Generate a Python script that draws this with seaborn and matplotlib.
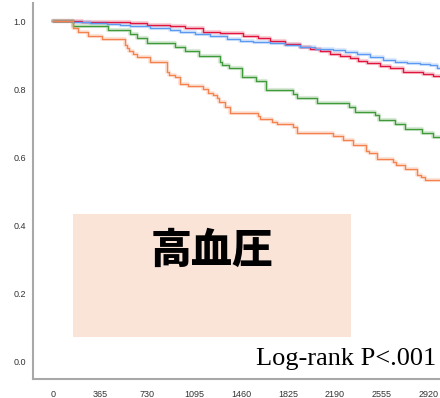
import pandas as pd
import matplotlib.pyplot as plt
import matplotlib.patches as mpatches
import seaborn as sns

# Kaplan-Meier steps (days, survival)
grupo_a_dias = [0, 225, 388, 598, 730, 909, 1025, 1165, 1297, 1476, 1592, 1685, 1802,
                1918, 1996, 2074, 2151, 2229, 2307, 2369, 2439, 2540, 2617, 2718, 2874, 2951, 3040]
grupo_a_surv = [1.0, 0.999, 0.997, 0.996, 0.990, 0.985, 0.981, 0.969, 0.965, 0.957, 0.951, 0.943, 0.934,
                0.925, 0.919, 0.912, 0.904, 0.898, 0.892, 0.884, 0.878, 0.869, 0.863, 0.851, 0.845, 0.839, 0.837]

grupo_b_dias = [0, 155, 287, 419, 520, 598, 753, 909, 986, 1103, 1219, 1351, 1452, 1553,
                1685, 1802, 1918, 2034, 2174, 2268, 2361, 2462, 2563, 2656, 2749, 2850, 2928, 2982, 3040]
grupo_b_surv = [1.0, 0.999, 0.996, 0.993, 0.990, 0.987, 0.981, 0.975, 0.969, 0.963, 0.957, 0.948, 0.943, 0.940,
                0.937, 0.931, 0.925, 0.919, 0.916, 0.910, 0.904, 0.895, 0.887, 0.881, 0.878, 0.875, 0.872, 0.863, 0.863]

grupo_c_dias = [0, 155, 427, 598, 652, 730, 947, 1025, 1134, 1297, 1312, 1367, 1468, 1577, 1654,
                1864, 1895, 2050, 2299, 2345, 2501, 2532, 2656, 2734, 2866, 2951, 3040]
grupo_c_surv = [1.0, 0.987, 0.975, 0.963, 0.951, 0.937, 0.925, 0.913, 0.898, 0.881, 0.872, 0.863, 0.837, 0.825, 0.799,
                0.787, 0.775, 0.760, 0.748, 0.733, 0.725, 0.710, 0.699, 0.684, 0.672, 0.660, 0.660]

grupo_d_dias = [0, 155, 194, 272, 381, 559, 575, 590, 621, 652, 753, 885, 901, 947, 986, 1048, 1165, 1204,
                1243, 1274, 1289, 1336, 1375, 1592, 1608, 1701, 1740, 1864, 1895, 2174, 2252, 2330, 2431,
                2454, 2516, 2640, 2664, 2734, 2827, 2858, 2889, 3040]
grupo_d_surv = [1.0, 0.981, 0.969, 0.957, 0.948, 0.931, 0.922, 0.913, 0.904, 0.895, 0.881, 0.851, 0.842, 0.837,
                0.816, 0.810, 0.801, 0.789, 0.784, 0.775, 0.763, 0.748, 0.731, 0.722, 0.713, 0.704, 0.699,
                0.690, 0.672, 0.663, 0.651, 0.636, 0.619, 0.613, 0.595, 0.587, 0.578, 0.566, 0.548, 0.543,
                0.533, 0.533]

GRUPOS = ['A', 'B', 'C', 'D']
CORES = {'A': '#e0163f', 'B': '#5b9af0', 'C': '#3f9a3a', 'D': '#f4824f'}
TICKS_X = [0, 365, 730, 1095, 1460, 1825, 2190, 2555, 2920]
TICKS_Y = [0.0, 0.2, 0.4, 0.6, 0.8, 1.0]
TITULO_CAIXA = '高血圧'
TEXTO_LOGRANK = 'Log-rank P<.001'


def montar_dados():
    partes = []
    for g, d, s in zip(GRUPOS,
                       [grupo_a_dias, grupo_b_dias, grupo_c_dias, grupo_d_dias],
                       [grupo_a_surv, grupo_b_surv, grupo_c_surv, grupo_d_surv]):
        partes.append(pd.DataFrame({'dias': d, 'surv': s, 'grupo': g}))
    return pd.concat(partes, ignore_index=True)


def main():
    df = montar_dados()
    sns.set_theme(style="white")
    fig = plt.figure(figsize=(4.4, 3.98), dpi=100)
    ax = fig.add_axes([0.075, 0.0477, 0.925, 0.945])

    # halo claro por baixo + linha fina
    sns.lineplot(data=df, x='dias', y='surv', hue='grupo', palette=CORES, estimator=None,
                 sort=False, drawstyle='steps-post', linewidth=3, alpha=0.2, legend=False, ax=ax)
    sns.lineplot(data=df, x='dias', y='surv', hue='grupo', palette=CORES, estimator=None,
                 sort=False, drawstyle='steps-post', linewidth=1.0, legend=False, ax=ax)

    ax.set_xlim(-155, 3005)
    ax.set_ylim(-0.053, 1.054)
    ax.set_xticks(TICKS_X)
    ax.set_yticks(TICKS_Y)
    ax.set_yticklabels([f'{v:.1f}' for v in TICKS_Y])
    ax.set_xlabel('')
    ax.set_ylabel('')
    ax.tick_params(axis='both', labelsize=6.5, colors='#333333', length=0)
    ax.tick_params(axis='y', pad=5)
    ax.tick_params(axis='x', pad=8)
    for lab in ax.get_xticklabels() + ax.get_yticklabels():
        lab.set_fontfamily('Liberation Sans')
    for lado in ['top', 'right']:
        ax.spines[lado].set_visible(False)
    for lado in ['left', 'bottom']:
        ax.spines[lado].set_color('#a8a8a8')
        ax.spines[lado].set_linewidth(1.5)

    caixa = mpatches.Rectangle((155, 0.071), 2159, 0.362, facecolor='#fae4d8',
                               edgecolor='none', zorder=0.5)
    ax.add_patch(caixa)
    ax.text(1234, 0.325, TITULO_CAIXA, ha='center', va='center', fontsize=29.5,
            fontweight='black', family=['Noto Sans CJK JP', 'DejaVu Sans'], color='black')
    ax.text(1577, -0.012, TEXTO_LOGRANK, ha='left', va='baseline', fontsize=19,
            family=['Liberation Serif', 'DejaVu Serif'], color='black', clip_on=False)

    fig.savefig('out.png', dpi=100)


if __name__ == "__main__":
    main()
